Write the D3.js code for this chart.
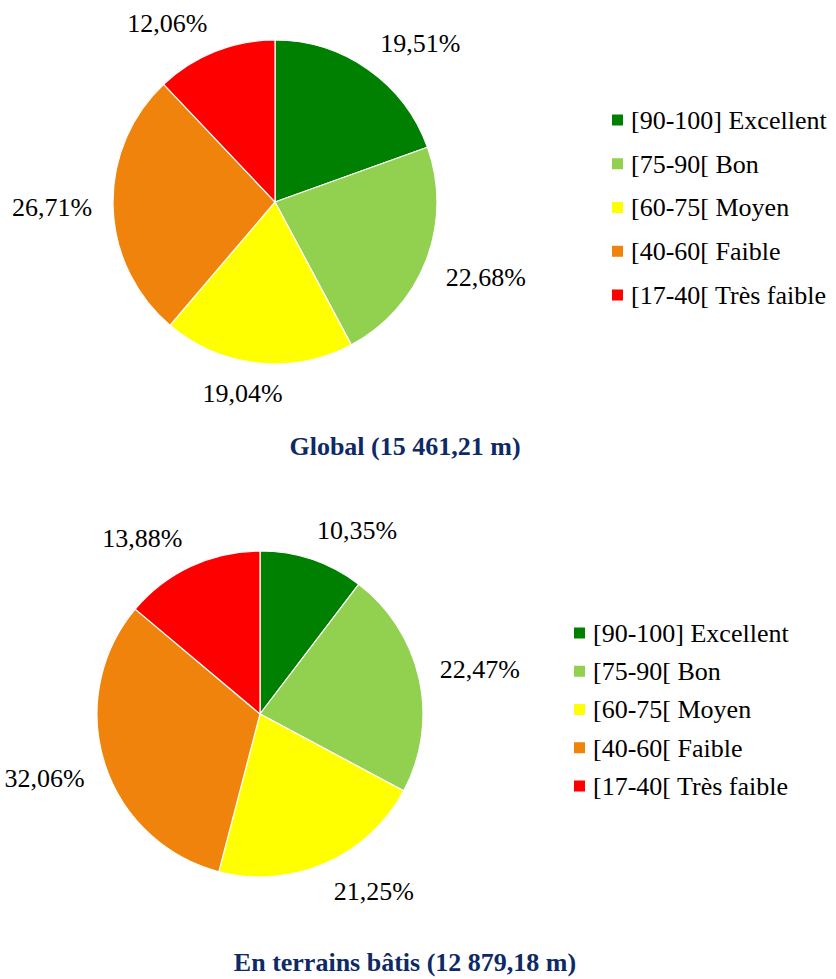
<!DOCTYPE html>
<html>
<head>
<meta charset="utf-8">
<script src="https://cdn.jsdelivr.net/npm/d3@7"></script>
<style>
  html, body { margin: 0; padding: 0; background: #ffffff; }
  svg { display: block; }
</style>
</head>
<body>
<div id="chart"></div>
<script>
// ---- data ----
const categories = ["[90-100] Excellent", "[75-90[ Bon", "[60-75[ Moyen", "[40-60[ Faible", "[17-40[ Très faible"];
const colors = ["#008000", "#92D050", "#FFFF00", "#F0830B", "#FF0000"];
const globalValues = [19.51, 22.68, 19.04, 26.71, 12.06];
const builtValues = [10.35, 22.47, 21.25, 32.06, 13.88];
const globalTitle = "Global (15 461,21 m)";
const builtTitle = "En terrains bâtis (12 879,18 m)";

// ---- layout ----
const W = 836, H = 979;
const FONT = "'Liberation Serif', 'Times New Roman', Times, 'DejaVu Serif', serif";
const svg = d3.select("#chart").append("svg").attr("width", W).attr("height", H)
  .style("font-family", FONT);

const panels = [
  { values: globalValues, title: globalTitle, cx: 275, cy: 202, r: 162,
    legendX: 612, legendY: 120, legendStep: 43.75, titleX: 405, titleY: 455 },
  { values: builtValues, title: builtTitle, cx: 260, cy: 714, r: 163,
    legendX: 574, legendY: 633, legendStep: 38.25, titleX: 405, titleY: 971 }
];

const fmt = v => d3.format(".2f")(v).replace(".", ",") + "%";
const color = d3.scaleOrdinal().domain(categories).range(colors);
const pie = d3.pie().sort(null).value(d => d.value);
const clamp = v => Math.max(-1, Math.min(1, v));

panels.forEach(p => {
  const data = categories.map((c, i) => ({ cat: c, value: p.values[i] }));
  const arcs = pie(data);
  const arc = d3.arc().innerRadius(0).outerRadius(p.r);
  const labelArc = d3.arc().innerRadius(p.r + 21).outerRadius(p.r + 21);

  const g = svg.append("g").attr("transform", `translate(${p.cx},${p.cy})`);
  g.selectAll("path.slice").data(arcs).join("path")
    .attr("class", "slice")
    .attr("d", arc)
    .attr("fill", d => color(d.data.cat))
    .attr("stroke", "#ffffff")
    .attr("stroke-width", 1.2);

  // data labels, placed outside the end of each slice
  arcs.forEach(d => {
    const a = (d.startAngle + d.endAngle) / 2;
    const [px, py] = labelArc.centroid(d);
    const t = g.append("text")
      .attr("font-family", FONT)
      .attr("font-size", 26)
      .attr("fill", "#000")
      .attr("text-anchor", "middle")
      .attr("dy", "0.34em")
      .text(fmt(d.data.value));
    const hw = t.node().getComputedTextLength() / 2;
    const hh = 9;
    const x = px + hw * clamp(3 * Math.sin(a));
    const y = py - hh * clamp(3 * Math.cos(a));
    t.attr("x", x).attr("y", y);
  });

  // legend
  const lg = svg.append("g");
  const rows = lg.selectAll("g").data(categories).join("g")
    .attr("transform", (d, i) => `translate(${p.legendX},${p.legendY + i * p.legendStep})`);
  rows.append("rect")
    .attr("x", 0).attr("y", -5.5).attr("width", 11).attr("height", 11)
    .attr("fill", d => color(d));
  rows.append("text")
    .attr("x", 19)
    .attr("y", 0)
    .attr("dy", "0.34em")
    .attr("font-family", FONT)
    .attr("font-size", 26)
    .attr("fill", "#000")
    .text(d => d);

  // title
  svg.append("text")
    .attr("x", p.titleX).attr("y", p.titleY)
    .attr("text-anchor", "middle")
    .attr("font-family", FONT)
    .attr("font-size", 26)
    .attr("font-weight", "bold")
    .attr("fill", "#0E2A66")
    .text(p.title);
});
</script>
</body>
</html>
